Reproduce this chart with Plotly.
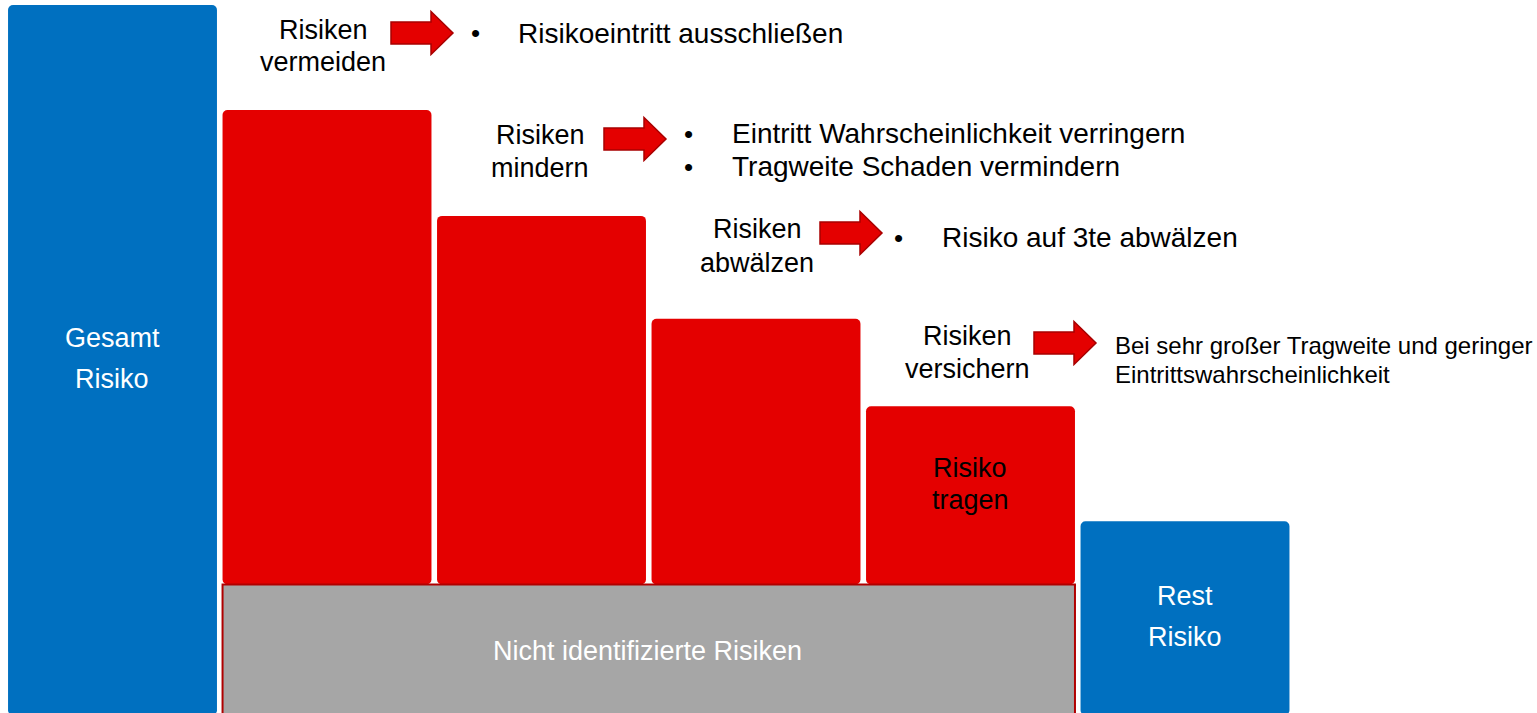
import plotly.graph_objects as go

W, H = 1537, 713

# data
steps = ["Gesamt Risiko", "Risiken vermeiden", "Risiken mindern",
         "Risiken abwälzen", "Risiken versichern", "Rest Risiko"]
levels = [100, 85.2, 70.3, 55.8, 43.5, 27.3]
unidentified = 18.4
measures = [
    ["Risikoeintritt ausschließen"],
    ["Eintritt Wahrscheinlichkeit verringern", "Tragweite Schaden vermindern"],
    ["Risiko auf 3te abwälzen"],
]
insure_note = ["Bei sehr großer Tragweite und geringer", "Eintrittswahrscheinlichkeit"]

BLUE = "#0070C0"
RED = "#E40000"
GRAY = "#A6A6A6"
FONT = "Arial, Liberation Sans, sans-serif"
bw = 0.974


def px(x):
    return x / W


def py(y):
    return 1 - y / H


fig = go.Figure()

# blue bars: total and rest
fig.add_trace(go.Bar(
    x=[0, 5], y=[levels[0], levels[5]], base=0, width=bw,
    marker=dict(color=BLUE, cornerradius=5, line_width=0),
    hoverinfo="skip",
))
# red bars: remaining risk after each step
red_x = [1, 2, 3, 4]
fig.add_trace(go.Bar(
    x=red_x, y=[levels[i] - unidentified for i in red_x], base=unidentified,
    width=bw, marker=dict(color=RED, cornerradius=5, line_width=0),
    hoverinfo="skip",
))
# gray block: not identified risks
fig.add_trace(go.Bar(
    x=[(red_x[0] + red_x[-1]) / 2], y=[unidentified], base=0,
    width=red_x[-1] - red_x[0] + bw,
    marker=dict(color=GRAY, line=dict(color="#B00000", width=2)),
    hoverinfo="skip",
))

ann = []


def text(x, ys, lines, size=27, color="black", anchor="center"):
    for y, t in zip(ys, lines):
        ann.append(dict(x=px(x), y=py(y), xref="paper", yref="paper", text=t,
                        showarrow=False, xanchor=anchor, yanchor="middle",
                        align="left" if anchor == "left" else "center",
                        font=dict(family=FONT, size=size, color=color)))


shapes = []


def arrow(x0, y, length=62, body=22, head=43, head_len=22):
    xb = x0 + length - head_len
    pts = [(x0, y - body / 2), (xb, y - body / 2), (xb, y - head / 2),
           (x0 + length, y), (xb, y + head / 2), (xb, y + body / 2),
           (x0, y + body / 2)]
    path = "M " + " L ".join(f"{px(a):.5f},{py(b):.5f}" for a, b in pts) + " Z"
    shapes.append(dict(type="path", path=path, xref="paper", yref="paper",
                       fillcolor=RED, line=dict(color="#A80000", width=1.5)))


# bar labels
text(112, [338, 379], steps[0].split(), color="white")
text(1185, [596, 637], steps[5].split(), color="white")
text(647, [651], ["Nicht identifizierte Risiken"], color="white")
text(970, [468, 500], ["Risiko", "tragen"])

# step labels, arrows and measures
text(323, [30, 62], steps[1].split())
arrow(391, 33)
text(475, [33], ["•"], size=26)
text(516, [33], measures[0], size=28, anchor="left")

text(540, [135, 168], steps[2].split())
arrow(604, 139)
text(688, [134, 167], ["•", "•"], size=26)
text(730, [134, 167], measures[1], size=28, anchor="left")

text(757, [229, 263], steps[3].split())
arrow(820, 233)
text(898, [238], ["•"], size=26)
text(940, [238], measures[2], size=28, anchor="left")

text(967, [336, 369], steps[4].split())
arrow(1034, 343)
text(1113, [345, 375], insure_note, size=24, anchor="left")

fig.update_layout(
    width=W, height=H,
    margin=dict(l=0, r=0, t=0, b=0),
    paper_bgcolor="white", plot_bgcolor="white",
    showlegend=False, barmode="overlay",
    xaxis=dict(range=[-0.5245, 6.641], visible=False, fixedrange=True),
    yaxis=dict(range=[0.3, 100.7], visible=False, fixedrange=True),
    annotations=ann, shapes=shapes,
)

# drop the default page margin so the figure fills the window
fig.write_html("out.html", config={"displayModeBar": False},
               post_script="document.body.style.margin='0';")
